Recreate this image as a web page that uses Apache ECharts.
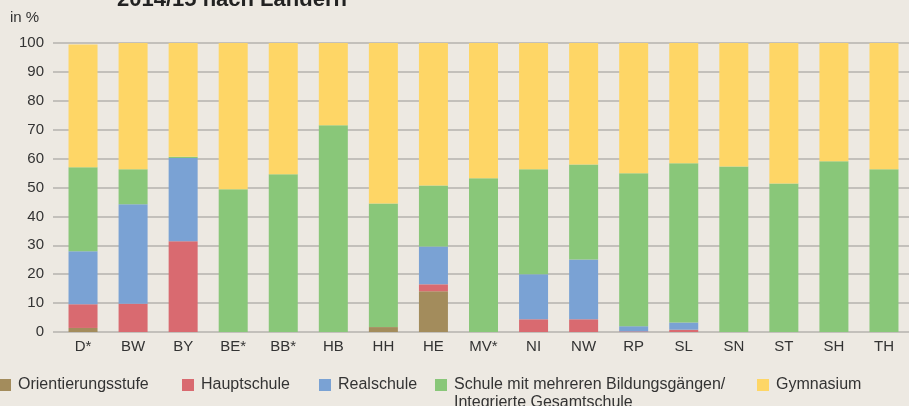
<!DOCTYPE html>
<html>
<head>
<meta charset="utf-8">
<script src="https://cdn.jsdelivr.net/npm/echarts@6/dist/echarts.min.js"></script>
<style>
  html, body { margin: 0; padding: 0; background: #ede9e2; }
  #main { width: 909px; height: 406px; }
</style>
</head>
<body>
<div id="main"></div>
<script>
var laender = ['D*', 'BW', 'BY', 'BE*', 'BB*', 'HB', 'HH', 'HE', 'MV*', 'NI', 'NW', 'RP', 'SL', 'SN', 'ST', 'SH', 'TH'];
var yTicks = [0, 10, 20, 30, 40, 50, 60, 70, 80, 90, 100];

var orientierung = [1.4, 0, 0, 0, 0, 0, 1.7, 14.1, 0, 0, 0, 0, 0, 0, 0, 0, 0];
var hauptschule  = [8.2, 9.8, 31.4, 0, 0, 0, 0, 2.4, 0, 4.4, 4.4, 0.2, 0.8, 0, 0, 0, 0];
var realschule   = [18.3, 34.4, 28.8, 0, 0, 0, 0, 13.1, 0, 15.6, 20.7, 1.8, 2.5, 0, 0, 0, 0];
var mehrere      = [29.1, 12.1, 0.4, 49.4, 54.6, 71.5, 42.8, 21.1, 53.2, 36.3, 32.9, 52.9, 55.1, 57.3, 51.4, 59.1, 56.3];
var gymnasium    = [42.5, 43.7, 39.4, 50.6, 45.4, 28.5, 55.5, 49.3, 46.8, 43.7, 42.0, 45.1, 41.6, 42.7, 48.6, 40.9, 43.7];

var namen = ['Orientierungsstufe', 'Hauptschule', 'Realschule',
  'Schule mit mehreren Bildungsgängen/ Integrierte Gesamtschule', 'Gymnasium'];
var farben = ['#a38c5c', '#d96a70', '#7aa2d4', '#89c779', '#fed666'];
var werte = [orientierung, hauptschule, realschule, mehrere, gymnasium];

var schrift = '"Liberation Sans", Arial, sans-serif';
var legendLeft = [-1, 182, 319, 435, 757];

var myChart = echarts.init(document.getElementById('main'));

var series = [];
var legends = [];
for (var i = 0; i < namen.length; i++) {
  series.push({
    name: namen[i],
    type: 'bar',
    stack: 'gesamt',
    barWidth: 29,
    itemStyle: { color: farben[i] },
    data: werte[i]
  });
  legends.push({
    data: [namen[i]],
    left: legendLeft[i],
    top: 377,
    padding: 0,
    itemWidth: 12,
    itemHeight: 12,
    icon: 'rect',
    selectedMode: false,
    formatter: function (n) { return n.split('/ ')[0] + (n.indexOf('/ ') > 0 ? '/' : ''); },
    textStyle: { fontFamily: schrift, fontSize: 16, color: '#333', padding: [0, 0, 0, 2] }
  });
}

var option = {
  backgroundColor: '#ede9e2',
  animation: false,
  title: {
    text: '2014/15 nach Ländern',
    left: 112,
    top: -16,
    textStyle: { fontFamily: schrift, fontSize: 22, fontWeight: 'bold', color: '#222' }
  },
  grid: { left: 58, right: -11, top: 43, bottom: 74 },
  legend: legends,
  graphic: [
    {
      type: 'text', left: 10, top: 10,
      style: { text: 'in %', font: '15px ' + schrift, fill: '#333' }
    },
    {
      type: 'text', left: 454, top: 395,
      style: { text: 'Integrierte Gesamtschule', font: '16px ' + schrift, fill: '#333' }
    }
  ],
  xAxis: {
    type: 'category',
    data: laender,
    axisLine: { show: false },
    axisTick: { show: false },
    axisLabel: { fontFamily: schrift, fontSize: 15, color: '#333', margin: 7, interval: 0 }
  },
  yAxis: {
    type: 'value',
    min: yTicks[0],
    max: yTicks[yTicks.length - 1],
    interval: 10,
    axisLine: { show: false },
    axisTick: { show: true, length: 5, lineStyle: { color: '#b5b2ae', width: 1.5 } },
    splitLine: { lineStyle: { color: '#b5b2ae', width: 1.5 } },
    axisLabel: { fontFamily: schrift, fontSize: 15, color: '#333', margin: 14 }
  },
  series: series
};

myChart.setOption(option);
</script>
</body>
</html>
